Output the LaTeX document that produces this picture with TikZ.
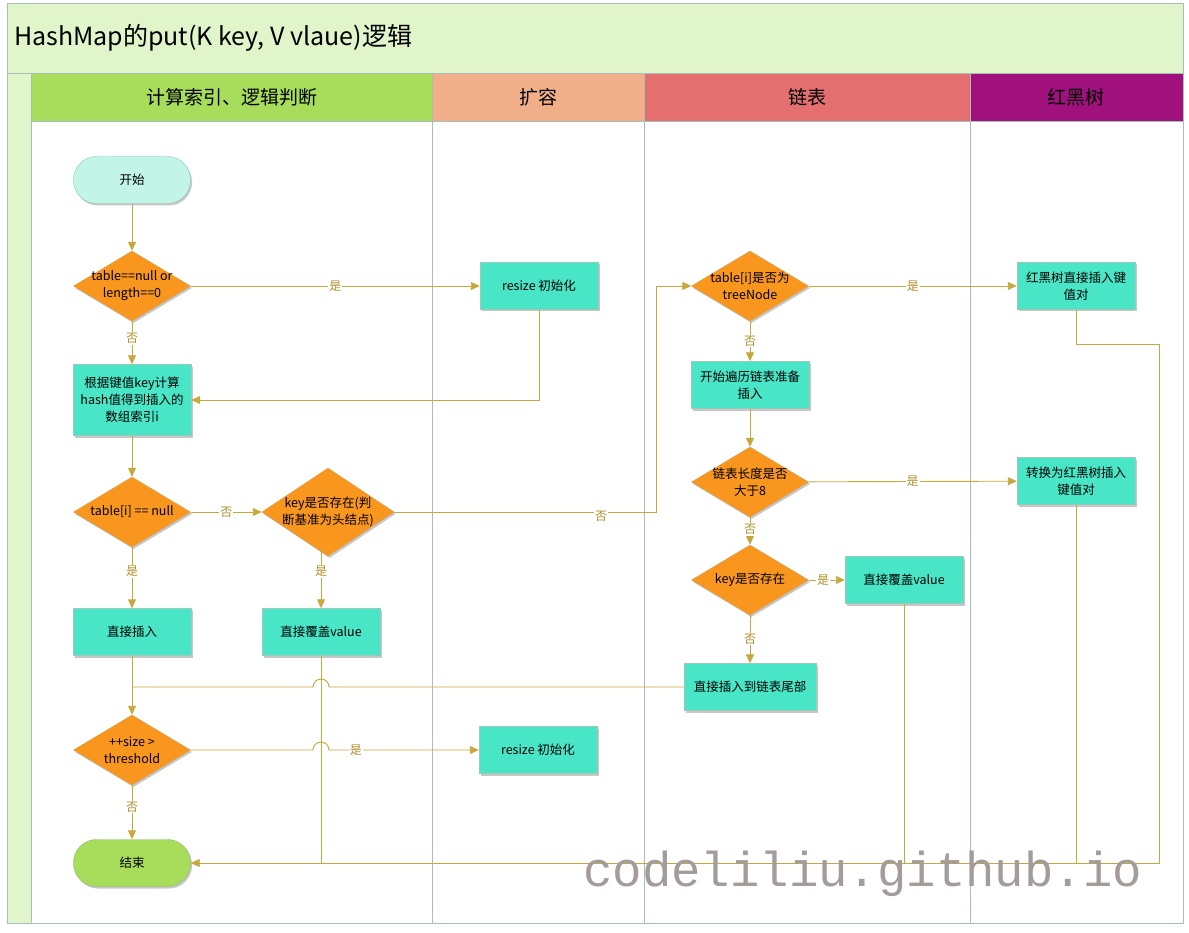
\documentclass[tikz,border=0pt]{standalone}
\usepackage{fontspec}
\setmainfont{Noto Sans CJK SC}
\newfontfamily\wmfont{Liberation Mono}
\usetikzlibrary{shapes.geometric,arrows.meta,shadows}
\definecolor{titlebg}{HTML}{E1F5CB}
\definecolor{framec}{HTML}{A9BDB9}
\definecolor{laneA}{HTML}{A8DD5C}
\definecolor{laneB}{HTML}{F0AF88}
\definecolor{laneC}{HTML}{E46F6F}
\definecolor{laneD}{HTML}{A0117E}
\definecolor{edgec}{HTML}{C8A83C}
\definecolor{labelc}{HTML}{B0902A}
\definecolor{boxc}{HTML}{48E6C6}
\definecolor{boxb}{HTML}{A0C8B8}
\definecolor{decc}{HTML}{F8961E}
\definecolor{decb}{HTML}{D8A050}
\definecolor{startc}{HTML}{C2F5E8}
\definecolor{startb}{HTML}{8CC8B8}
\definecolor{endb}{HTML}{90B878}
\definecolor{wmc}{HTML}{A39C9A}
\begin{document}
\begin{tikzpicture}[x=1pt,y=-1pt,
  nfont/.style={font=\fontsize{12.5}{17}\selectfont},
  shad/.style={drop shadow={shadow xshift=1.5pt,shadow yshift=-2pt,fill=black,opacity=0.22}},
  procbox/.style={rectangle,draw=boxb,fill=boxc,minimum width=118pt,minimum height=47pt,inner sep=2pt,align=center,nfont,shad},
  termbox/.style={rectangle,rounded corners=23pt,draw=startb,minimum width=117pt,minimum height=47pt,align=center,nfont,shad},
  decbox/.style={diamond,draw=decb,fill=decc,minimum width=117pt,minimum height=70pt,inner sep=0pt,shad},
  dtext/.style={align=center,nfont,inner sep=0pt},
  lanehead/.style={font=\fontsize{19}{22}\selectfont},
  edgeline/.style={draw=edgec,line width=0.9pt},
  arr/.style={edgeline,-{Triangle[length=9pt,width=8pt]},fill=none},
  lbl/.style={fill=white,text=labelc,font=\fontsize{12}{14}\selectfont,inner sep=1pt}]
\useasboundingbox (0,0) rectangle (1189,933);
\fill[white] (0,0) rectangle (1189,933);
% frame
\filldraw[fill=titlebg,draw=framec] (7,3) rectangle (1183,73);
\node[anchor=west,font=\fontsize{25}{30}\selectfont,inner sep=0pt] (title) at (14,38) {HashMap的put(K key, V vlaue)逻辑};
\filldraw[fill=titlebg,draw=framec] (7,73) rectangle (31,923);
\filldraw[fill=laneA,draw=framec] (31,73) rectangle (432,121);
\filldraw[fill=laneB,draw=framec] (432,73) rectangle (644,121);
\filldraw[fill=laneC,draw=framec] (644,73) rectangle (970,121);
\filldraw[fill=laneD,draw=framec] (970,73) rectangle (1183,121);
\draw[framec] (31,121) rectangle (432,923);
\draw[framec] (432,121) rectangle (644,923);
\draw[framec] (644,121) rectangle (970,923);
\draw[framec] (970,121) rectangle (1183,923);
\node[lanehead] (h1) at (232,97) {计算索引、逻辑判断};
\node[lanehead] (h2) at (538,97) {扩容};
\node[lanehead] (h3) at (807,97) {链表};
\node[lanehead] (h4) at (1076,97) {红黑树};
% nodes lane 1/2
\node[termbox,fill=startc] (start) at (132,180) {开始};
\node[decbox] (d1) at (132,286) {};
\node[dtext] (d1t) at (d1) {table==null or\\length==0};
\node[procbox] (r1) at (539,286) {resize 初始化};
\node[procbox,minimum height=71pt] (k) at (132,400) {根据键值key计算\\hash值得到插入的\\数组索引i};
\node[decbox] (d2) at (132,512) {};
\node[dtext] (d2t) at (d2) {table[i] == null};
\node[decbox,minimum width=132pt,minimum height=88pt] (d3) at (328,512) {};
\node[dtext] (d3t) at (d3) {key是否存在(判\\断基准为头结点)};
\node[procbox] (b1) at (132,632) {直接插入};
\node[procbox] (b2) at (321,632) {直接覆盖value};
\node[decbox] (d5) at (132,750) {};
\node[dtext] (d5t) at (d5) {++size >\\threshold};
\node[procbox] (r2) at (538,750) {resize 初始化};
\node[termbox,fill=laneA,draw=endb] (end) at (132,863) {结束};
% lane 3/4
\node[decbox] (d4) at (750,286) {};
\node[dtext] (d4t) at (d4) {table[i]是否为\\treeNode};
\node[procbox] (rb1) at (1076,286) {红黑树直接插入键\\值对};
\node[procbox] (trav) at (750,385) {开始遍历链表准备\\插入};
\node[decbox] (d6) at (750,482) {};
\node[dtext] (d6t) at (d6) {链表长度是否\\大于8};
\node[procbox] (rb2) at (1076,481) {转换为红黑树插入\\键值对};
\node[decbox] (d7) at (750,580) {};
\node[dtext] (d7t) at (d7) {key是否存在};
\node[procbox] (cv) at (904,580) {直接覆盖value};
\node[procbox,minimum width=132pt] (tail) at (750,687) {直接插入到链表尾部};
% coordinates
\coordinate (c1) at (656,512);
\coordinate (d3b) at (321,550);
\coordinate (j1) at (132,687);
\coordinate (j2) at (321,863);
\coordinate (j3) at (904,863);
\coordinate (j4) at (1076,863);
\coordinate (c2) at (1076,344);
\coordinate (c3) at (1159,344);
\coordinate (c4) at (1159,863);
% edges
\draw[arr] (start) -- (d1);
\draw[arr] (d1) -- node[lbl]{是} (r1);
\draw[arr] (d1) -- node[lbl,pos=0.4]{否} (k);
\draw[arr] (r1.south) |- (k.east);
\draw[arr] (k) -- (d2);
\draw[arr] (d2) -- node[lbl]{否} (d3);
\draw[arr] (d3.east) -- node[lbl,pos=0.79,yshift=-4pt]{否} (c1) |- (d4.west);
\draw[arr] (d2) -- node[lbl,pos=0.4]{是} (b1);
\draw[arr] (d3b) -- node[lbl,pos=0.37]{是} (b2.north);
\draw[arr] (b1) -- (d5);
\draw[edgeline] (tail.west) -- (329,687) arc[start angle=0,end angle=-180,radius=8] -- (j1);
\draw[arr] (d5.east) -- (313,750) arc[start angle=-180,end angle=0,radius=8] -- node[lbl,pos=0.18]{是} (r2.west);
\draw[arr] (d5) -- node[lbl,pos=0.4]{否} (end);
\draw[edgeline] (b2) -- (j2);
\draw[arr] (rb1.south) -- (c2) -- (c3) -- (c4) -- (end.east);
\draw[edgeline] (cv.south) -- (j3);
\draw[edgeline] (rb2.south) -- (j4);
\draw[arr] (d4) -- node[lbl]{是} (rb1);
\draw[arr] (d4) -- node[lbl]{否} (trav);
\draw[arr] (trav) -- (d6);
\draw[arr] (d6) -- node[lbl]{是} (rb2);
\draw[arr] (d6) -- node[lbl,pos=0.45]{否} (d7);
\draw[arr] (d7) -- node[lbl,pos=0.4]{是} (cv);
\draw[arr] (d7) -- node[lbl,pos=0.5]{否} (tail);
% watermark
\node[anchor=base west,font=\wmfont\fontsize{49}{49}\selectfont,text=wmc,inner sep=0pt] (wm) at (583,886) {codeliliu.github.io};
\end{tikzpicture}
\end{document}
